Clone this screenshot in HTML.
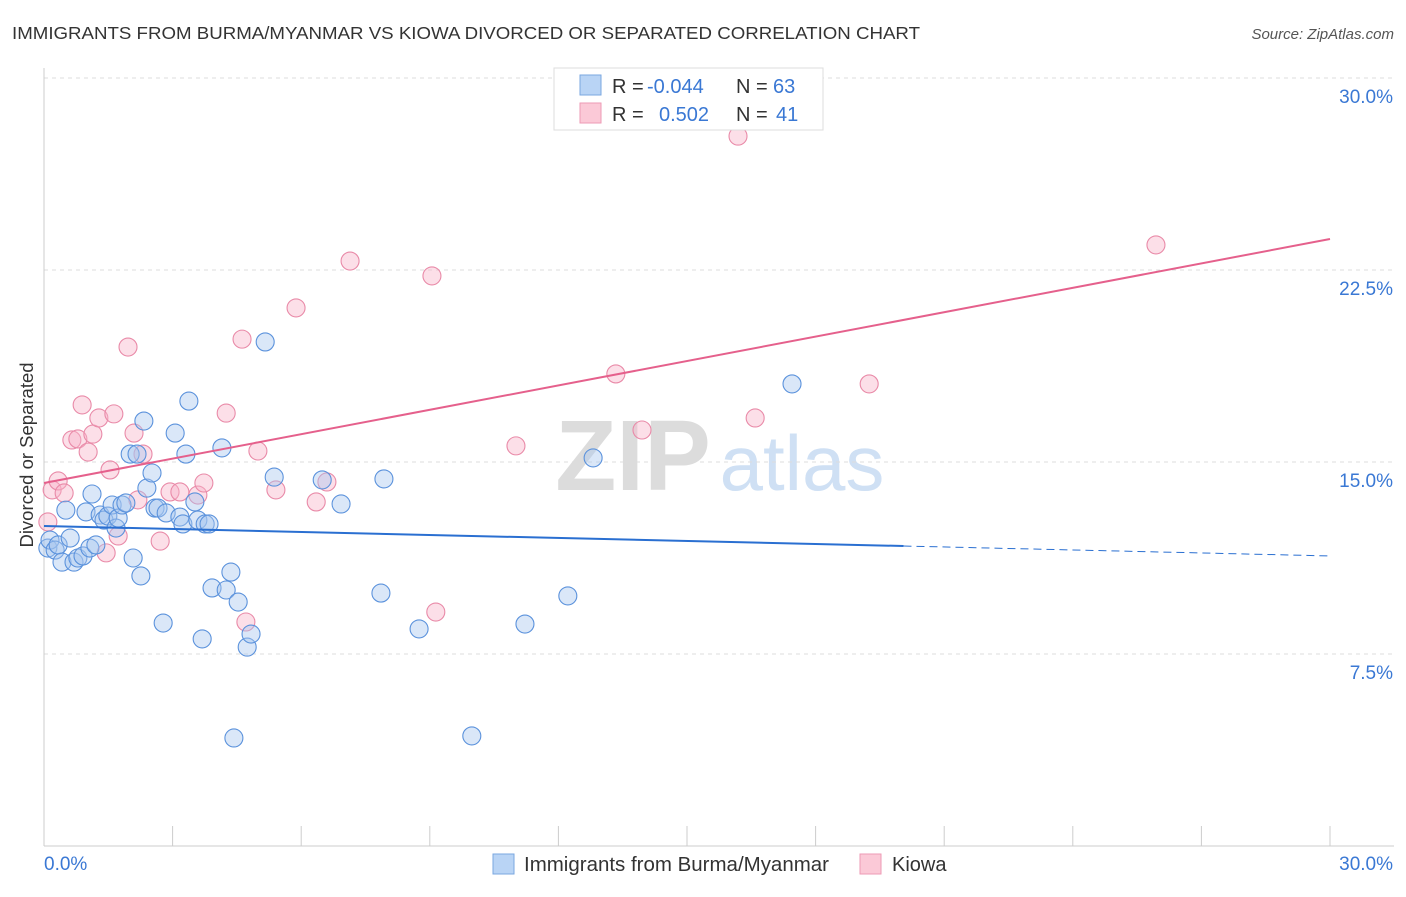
<!DOCTYPE html>
<html><head><meta charset="utf-8"><style>
body{margin:0;background:#fff;font-family:"Liberation Sans",sans-serif;}
svg text{font-family:"Liberation Sans",sans-serif;}
</style></head><body>
<svg id="chart" width="1406" height="892" xmlns="http://www.w3.org/2000/svg">
<text x="12" y="39" font-size="17.5" fill="#333" textLength="908" lengthAdjust="spacingAndGlyphs">IMMIGRANTS FROM BURMA/MYANMAR VS KIOWA DIVORCED OR SEPARATED CORRELATION CHART</text>
<text x="1394" y="39" font-size="15" fill="#555" text-anchor="end" font-style="italic">Source: ZipAtlas.com</text>
<g>
<text x="633" y="490" font-size="100" fill="#dcdcdc" text-anchor="middle" font-family="Liberation Serif" font-weight="bold">ZIP</text>
<text x="802" y="490" font-size="78" fill="#cfe0f4" text-anchor="middle">atlas</text>
</g>
<g id="grid"></g>
<g id="axes"></g>
<g id="marks"></g>
<text transform="translate(33,455) rotate(-90)" font-size="18.5" fill="#333" text-anchor="middle">Divorced or Separated</text>
<g>
<rect x="554" y="68" width="269" height="62" fill="#fff" stroke="#ddd"/>
<rect x="580" y="75" width="21" height="20" fill="#b9d4f5" stroke="#7aa7e0"/>
<rect x="580" y="103" width="21" height="20" fill="#fbc9d7" stroke="#ee9ab4"/>
<text x="612" y="93" font-size="20" fill="#333">R = </text><text x="647" y="93" font-size="20" fill="#3a78d4">-0.044</text>
<text x="736" y="93" font-size="20" fill="#333">N = </text><text x="773" y="93" font-size="20" fill="#3a78d4">63</text>
<text x="612" y="121" font-size="20" fill="#333">R = </text><text x="659" y="121" font-size="20" fill="#3a78d4">0.502</text>
<text x="736" y="121" font-size="20" fill="#333">N = </text><text x="776" y="121" font-size="20" fill="#3a78d4">41</text>
</g>
<g>
<rect x="493" y="854" width="21" height="20" fill="#b9d4f5" stroke="#7aa7e0"/>
<text x="524" y="871" font-size="20" fill="#333" textLength="305" lengthAdjust="spacingAndGlyphs">Immigrants from Burma/Myanmar</text>
<rect x="860" y="854" width="21" height="20" fill="#fbc9d7" stroke="#ee9ab4"/>
<text x="892" y="871" font-size="20" fill="#333">Kiowa</text>
</g>
</svg>
<script>
const yTicks=[7.5,15,22.5,30];
const yTickLabels=["7.5%","15.0%","22.5%","30.0%"];
const xTickCount=10;
const xLabels=["0.0%","30.0%"];
const blueX=[0.09,0.14,0.26,0.33,0.42,0.51,0.61,0.70,0.79,0.91,0.98,1.07,1.12,1.21,1.31,1.40,1.49,1.59,1.68,1.73,1.82,1.91,2.01,2.08,2.17,2.26,2.33,2.40,2.52,2.59,2.66,2.78,2.85,3.06,3.17,3.24,3.31,3.38,3.52,3.59,3.69,3.76,3.85,3.92,4.15,4.25,4.36,4.43,4.53,4.74,4.83,5.16,5.37,6.49,6.93,7.86,7.93,8.75,9.98,11.22,12.22,12.81,17.45];
const blueY=[11.64,11.95,11.56,11.76,11.09,13.12,12.03,11.09,11.25,11.33,13.05,11.64,13.75,11.76,12.93,12.73,12.89,13.32,12.42,12.81,13.32,13.40,15.31,11.25,15.31,10.55,16.60,13.98,14.57,13.20,13.20,8.71,13.01,16.13,12.85,12.58,15.31,17.38,13.44,12.73,8.09,12.58,12.58,10.08,15.55,10.00,10.70,4.22,9.53,7.77,8.28,19.69,14.41,14.30,13.36,9.88,14.34,8.48,4.30,8.67,9.77,15.16,18.05];
const pinkX=[0.09,0.19,0.33,0.47,0.65,0.79,0.89,1.03,1.14,1.28,1.45,1.54,1.63,1.73,1.96,2.10,2.19,2.31,2.71,2.94,3.17,3.59,3.73,4.25,4.62,4.71,4.99,5.41,5.88,6.35,6.60,7.14,9.05,9.14,11.01,13.34,13.95,16.19,16.59,19.25,25.94];
const pinkY=[12.66,13.91,14.26,13.79,15.86,15.90,17.23,15.39,16.09,16.72,11.45,14.69,16.88,12.11,19.49,16.13,13.52,15.31,11.91,13.83,13.83,13.71,14.18,16.91,19.80,8.75,15.43,13.91,21.02,13.44,14.22,22.85,22.27,9.14,15.63,18.44,16.25,27.73,16.72,18.05,23.48];
const blueTrend=[12.5,11.33]; const blueSolidEnd=20.05;
const pinkTrend=[14.18,23.71];
const NS="http://www.w3.org/2000/svg";
const X=v=>44+v/30*1286, Y=v=>846-v/7.5*192;
function mk(tag,attrs,parent){const e=document.createElementNS(NS,tag);for(const k in attrs)e.setAttribute(k,attrs[k]);parent.appendChild(e);return e;}
const grid=document.getElementById('grid'),axes=document.getElementById('axes'),marks=document.getElementById('marks');
yTicks.forEach((t,i)=>{
  const l=mk('line',{x1:44,x2:1394,y1:Y(t),y2:Y(t),stroke:'#ddd','stroke-dasharray':'4,4'},grid);
  
  
  const tx=mk('text',{x:1393,y:Y(t)+25,'font-size':19,fill:'#3a78d4','text-anchor':'end'},axes);
  tx.textContent=yTickLabels[i];
  
  
});
const xa=mk('line',{x1:44,x2:1394,y1:846,y2:846,stroke:'#ccc'},axes);


const ya=mk('line',{x1:44,x2:44,y1:68,y2:846,stroke:'#ccc'},axes);


for(let i=1;i<=xTickCount;i++){const v=i*3;const t=mk('line',{x1:X(v),x2:X(v),y1:826,y2:846,stroke:'#ccc'},axes);
  
  }
const xl0=mk('text',{x:44,y:870,'font-size':19,fill:'#3a78d4'},axes);xl0.textContent=xLabels[0];


const xl1=mk('text',{x:1393,y:870,'font-size':19,fill:'#3a78d4','text-anchor':'end'},axes);xl1.textContent=xLabels[1];


function dots(xs,ys,fill,stroke,name){xs.forEach((x,i)=>{const c=mk('circle',{cx:X(x),cy:Y(ys[i]),r:9,fill:fill,'fill-opacity':0.42,stroke:stroke,'stroke-width':1.1},marks);
  
  });}
dots(pinkX,pinkY,'#f7b3c7','#e98aa8','kiowa-point');
dots(blueX,blueY,'#a6c6ef','#5b92dc','burma-point');
const bAt=v=>blueTrend[0]+(blueTrend[1]-blueTrend[0])*v/30;
const b1=mk('line',{x1:X(0),y1:Y(blueTrend[0]),x2:X(blueSolidEnd),y2:Y(bAt(blueSolidEnd)),stroke:'#2a6fd1','stroke-width':2},marks);


const b2=mk('line',{x1:X(blueSolidEnd),y1:Y(bAt(blueSolidEnd)),x2:X(30),y2:Y(blueTrend[1]),stroke:'#2a6fd1','stroke-width':1,'stroke-dasharray':'8,5'},marks);


const p1=mk('line',{x1:X(0),y1:Y(pinkTrend[0]),x2:X(30),y2:Y(pinkTrend[1]),stroke:'#e5608c','stroke-width':2},marks);


</script>
</body></html>
